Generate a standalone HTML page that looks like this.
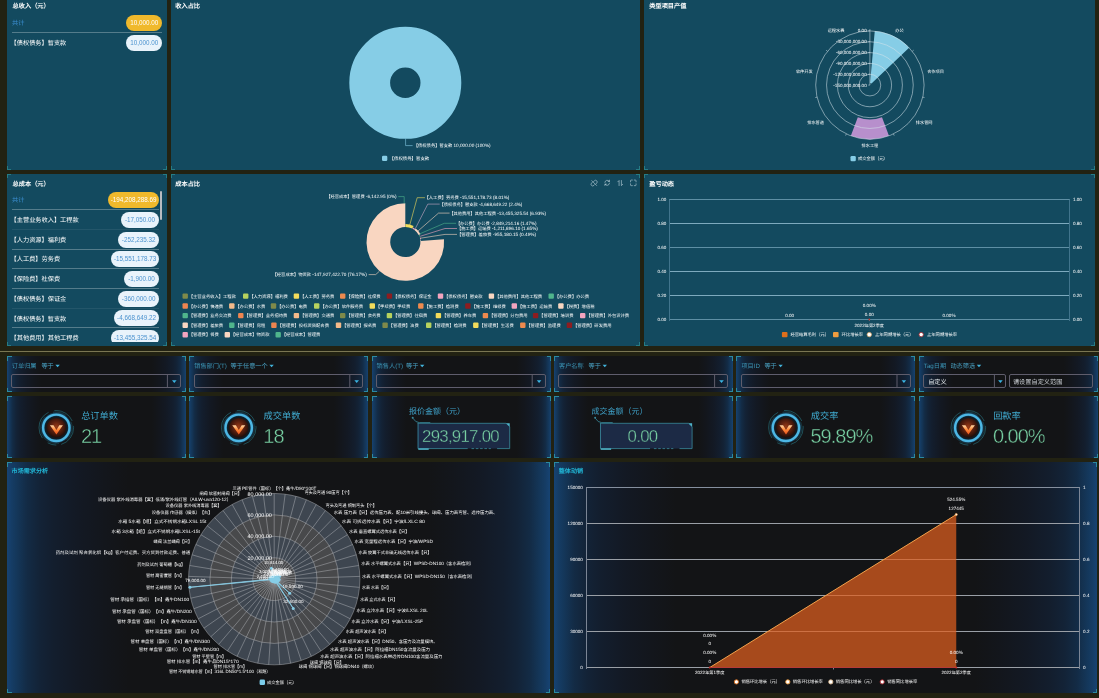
<!DOCTYPE html>
<html lang="zh-CN">
<head>
<meta charset="utf-8">
<title>销售数据大屏</title>
<style>
html,body{margin:0;padding:0}
body{text-spacing-trim:space-all;width:1099px;height:698px;overflow:hidden;position:relative;background:#222212;font-family:"Liberation Sans",sans-serif;color:#fff}
.w{position:absolute;will-change:transform}
.p{position:absolute;box-sizing:border-box;overflow:hidden}
.tp{background:#134a5f}
.dk{background:linear-gradient(90deg,#164373 0.0%,#153c64 0.77%,#14375a 1.53%,#132b45 3.15%,#132337 5.1%,#131e2e 7.22%,#131924 11.05%,#13161c 15.3%,#131416 19.12%,#131416 80.88%,#13161c 84.7%,#131924 88.95%,#131e2e 92.78%,#132337 94.9%,#132b45 96.86%,#14375a 98.47%,#153c64 99.23%,#164373 100.0%)}
.dk2{background:linear-gradient(90deg,#164373 0.0%,#153c64 0.9%,#14375a 1.8%,#132b45 3.7%,#132337 6.0%,#131e2e 8.5%,#131924 13.0%,#13161c 18.0%,#131416 22.5%,#131416 77.5%,#13161c 82.0%,#131924 87.0%,#131e2e 91.5%,#132337 94.0%,#132b45 96.3%,#14375a 98.2%,#153c64 99.1%,#164373 100.0%)}
.t{position:absolute;white-space:nowrap;line-height:8px}
.ttl{font-weight:bold;font-size:6.3px;color:#fff}
.ttl2{font-weight:bold;font-size:6.3px;color:#21b4d4}
svg{position:absolute;left:0;top:0;overflow:visible}
svg text{font-family:"Liberation Sans",sans-serif;text-spacing-trim:space-all;text-rendering:geometricPrecision}
.c{position:absolute;width:3px;height:3px;border:0 solid rgba(52,165,165,.55)}
.top1 .c.tl,.top1 .c.tr{display:none}
.c.tl{left:0;top:0;border-left-width:1px;border-top-width:1px}
.c.tr{right:0;top:0;border-right-width:1px;border-top-width:1px}
.c.bl{left:0;bottom:0;border-left-width:1px;border-bottom-width:1px}
.c.br{right:0;bottom:0;border-right-width:1px;border-bottom-width:1px}
.dk .c,.dk2 .c{border-color:#2a8aa2;width:3.5px;height:3.5px}
.bd{position:absolute;border-radius:8px;font-size:6.3px;line-height:16px;height:16px;text-align:center;white-space:nowrap}
.by{background:#f0b92c;color:#fff}
.bw{background:#e9f3fb;color:#4c93cf}
.sep{position:absolute;height:1px;background:rgba(255,255,255,.28)}
.lb{position:absolute;white-space:nowrap;font-size:6.4px;line-height:8px;color:#fff}
.fl{position:absolute;white-space:nowrap;font-size:6.2px;line-height:8px;color:#3b94b5}
.inp{position:absolute;box-sizing:border-box;border:1px solid #5f5d6c;border-radius:2px;height:14px}
.kt{position:absolute;white-space:nowrap;font-size:9.2px;line-height:14px;color:#40abd0}
.kv{position:absolute;white-space:nowrap;font-size:20px;line-height:24px;color:#78cfa3}
</style>
</head>
<body>
<div class="w" style="left:7px;top:0px;width:160px;height:170px"><div class="p tp top1" style="left:0px;top:0px;width:160px;height:170px"><svg width="160" height="170" viewBox="7 0 160 170"><text x="12.6" y="8.38" font-size="6.2" fill="#fff" font-weight="bold" textLength="37.13" lengthAdjust="spacingAndGlyphs">总收入（元）</text><text x="12" y="25.23" font-size="6.2" fill="#3c8fd2" textLength="12.38" lengthAdjust="spacingAndGlyphs">共计</text><text x="10.6" y="45.43" font-size="6.2" fill="#fff" textLength="55.69" lengthAdjust="spacingAndGlyphs">【债权债务】暂支款</text></svg><div class="bd by" style="left:118.9px;top:15px;width:36.5px">10,000.00</div><div class="bd bw" style="left:118.9px;top:35.2px;width:36.5px">10,000.00</div><div class="sep" style="left:4.8px;top:32.4px;width:150.6px;opacity:1"></div><i class="c tl"></i><i class="c tr"></i><i class="c bl"></i><i class="c br"></i></div></div>
<div class="w" style="left:171px;top:0px;width:469px;height:170px"><div class="p tp top1" style="left:0px;top:0px;width:469px;height:170px"><svg width="469" height="170" viewBox="171 0 469 170"><text x="175.3" y="8.38" font-size="6.2" fill="#fff" font-weight="bold" textLength="24.75" lengthAdjust="spacingAndGlyphs">收入占比</text><circle cx="405.3" cy="82.8" r="35.6" fill="none" stroke="#86cde6" stroke-width="40.8"/><path d="M405.6 138.6V145.6H412.6" fill="none" stroke="#86cde6" stroke-width="0.6"/><text x="413.8" y="146.78" font-size="4.4" fill="#fff" textLength="76.8" lengthAdjust="spacingAndGlyphs">【债权债务】暂支款 <tspan font-size="4.8">10,000.00 (100%)</tspan></text><rect x="382" y="155.7" width="5.3" height="5.3" rx="1.3" fill="#86cde6"/><text x="389.6" y="159.58" font-size="4.4" fill="#fff" textLength="39.6" lengthAdjust="spacingAndGlyphs">【债权债务】暂支款</text></svg><i class="c tl"></i><i class="c tr"></i><i class="c bl"></i><i class="c br"></i></div></div>
<div class="w" style="left:644px;top:0px;width:451px;height:170px"><div class="p tp top1" style="left:0px;top:0px;width:451px;height:170px"><svg width="451" height="170" viewBox="644 0 451 170"><text x="649.3" y="8.38" font-size="6.2" fill="#fff" font-weight="bold" textLength="37.13" lengthAdjust="spacingAndGlyphs">类型项目产值</text><path d="M874.76 31.12A54.2 54.2 0 0 1 909.08 47.64L871.49 83.58A2.2 2.2 0 0 0 870.1 82.91Z" fill="#86cde6"/><path d="M888.94 135.84A54.2 54.2 0 0 1 850.86 135.84L857.81 117.31A34.4 34.4 0 0 0 881.99 117.31Z" fill="#b78fcc"/><g fill="none" stroke="#d4e3ea" stroke-width="0.55"><circle cx="869.9" cy="85.1" r="10.84"/><circle cx="869.9" cy="85.1" r="21.68"/><circle cx="869.9" cy="85.1" r="32.52"/><circle cx="869.9" cy="85.1" r="43.36"/><circle cx="869.9" cy="85.1" r="54.2"/><path d="M869.9 30.9L869.9 29.1M912.28 51.31L913.68 50.18M922.74 97.16L924.5 97.56M893.42 133.93L894.2 135.55M846.38 133.93L845.6 135.55M817.06 97.16L815.3 97.56M827.52 51.31L826.12 50.18M869.9 85.1V30.9M868.3 85.1H869.9M868.3 74.26H869.9M868.3 63.42H869.9M868.3 52.58H869.9M868.3 41.74H869.9M868.3 30.9H869.9"/></g><text x="866.7" y="86.61" font-size="4.58" fill="#fff" text-anchor="end">-150,000,000.00</text><text x="866.7" y="75.77" font-size="4.58" fill="#fff" text-anchor="end">-120,000,000.00</text><text x="866.7" y="64.93" font-size="4.58" fill="#fff" text-anchor="end">-90,000,000.00</text><text x="866.7" y="54.09" font-size="4.58" fill="#fff" text-anchor="end">-60,000,000.00</text><text x="866.7" y="43.25" font-size="4.58" fill="#fff" text-anchor="end">-30,000,000.00</text><text x="866.7" y="32.41" font-size="4.58" fill="#fff" text-anchor="end">0.00</text><text x="895.37" y="32.1" font-size="4.2" fill="#fff" textLength="8.39" lengthAdjust="spacingAndGlyphs">办公</text><text x="927.13" y="73.15" font-size="4.2" fill="#fff" textLength="16.77" lengthAdjust="spacingAndGlyphs">合作项目</text><text x="915.79" y="124.33" font-size="4.2" fill="#fff" textLength="16.77" lengthAdjust="spacingAndGlyphs">排水管网</text><text x="869.9" y="147.11" font-size="4.2" fill="#fff" text-anchor="middle" textLength="16.77" lengthAdjust="spacingAndGlyphs">排水工程</text><text x="824.01" y="124.33" font-size="4.2" fill="#fff" text-anchor="end" textLength="16.77" lengthAdjust="spacingAndGlyphs">排水管道</text><text x="812.67" y="73.15" font-size="4.2" fill="#fff" text-anchor="end" textLength="16.77" lengthAdjust="spacingAndGlyphs">软件开发</text><text x="844.43" y="32.1" font-size="4.2" fill="#fff" text-anchor="end" textLength="16.77" lengthAdjust="spacingAndGlyphs">远程水表</text><rect x="850.5" y="155.9" width="5.3" height="5.3" rx="1.3" fill="#86cde6"/><text x="858" y="159.78" font-size="4.4" fill="#fff" textLength="29.6" lengthAdjust="spacingAndGlyphs">成交金额（元）</text></svg><i class="c tl"></i><i class="c tr"></i><i class="c bl"></i><i class="c br"></i></div></div>
<div class="w" style="left:7px;top:174px;width:160px;height:172px"><div class="p tp" style="left:0px;top:0px;width:160px;height:172px"><div class="p " style="left:0px;top:0px;width:160px;height:168px"><svg width="160" height="168" viewBox="7 174 160 168"><text x="12.6" y="185.73" font-size="6.2" fill="#fff" font-weight="bold" textLength="37.13" lengthAdjust="spacingAndGlyphs">总成本（元）</text><text x="12" y="202.33" font-size="6.2" fill="#3c8fd2" textLength="12.38" lengthAdjust="spacingAndGlyphs">共计</text><text x="10.6" y="222.03" font-size="6.2" fill="#fff" textLength="68.06" lengthAdjust="spacingAndGlyphs">【主营业务收入】工程款</text><text x="10.6" y="241.73" font-size="6.2" fill="#fff" textLength="55.69" lengthAdjust="spacingAndGlyphs">【人力资源】福利费</text><text x="10.6" y="261.43" font-size="6.2" fill="#fff" textLength="49.5" lengthAdjust="spacingAndGlyphs">【人工费】劳务费</text><text x="10.6" y="281.13" font-size="6.2" fill="#fff" textLength="49.5" lengthAdjust="spacingAndGlyphs">【保险费】社保费</text><text x="10.6" y="300.83" font-size="6.2" fill="#fff" textLength="55.69" lengthAdjust="spacingAndGlyphs">【债权债务】保证金</text><text x="10.6" y="320.53" font-size="6.2" fill="#fff" textLength="55.69" lengthAdjust="spacingAndGlyphs">【债权债务】暂支款</text><text x="10.6" y="340.23" font-size="6.2" fill="#fff" textLength="68.06" lengthAdjust="spacingAndGlyphs">【其他费用】其他工程费</text></svg><div class="bd by" style="left:101.13px;top:18.1px;width:51.07px">-194,208,288.69</div><div class="bd bw" style="left:113.99px;top:37.8px;width:38.21px">-17,050.00</div><div class="bd bw" style="left:111.13px;top:57.5px;width:41.07px">-252,235.32</div><div class="bd bw" style="left:103.98px;top:77.2px;width:48.22px">-15,551,178.73</div><div class="bd bw" style="left:116.84px;top:96.9px;width:35.36px">-1,900.00</div><div class="bd bw" style="left:111.13px;top:116.6px;width:41.07px">-360,000.00</div><div class="bd bw" style="left:106.84px;top:136.3px;width:45.36px">-4,668,649.22</div><div class="bd bw" style="left:103.98px;top:156px;width:48.22px">-13,455,325.54</div><div class="sep" style="left:4.8px;top:34.8px;width:147.4px;opacity:1"></div><div class="sep" style="left:4.8px;top:54.9px;width:147.4px;opacity:0.25"></div><div class="sep" style="left:4.8px;top:74.6px;width:147.4px;opacity:1"></div><div class="sep" style="left:4.8px;top:93.9px;width:147.4px;opacity:1"></div><div class="sep" style="left:4.8px;top:114.2px;width:147.4px;opacity:1"></div><div class="sep" style="left:4.8px;top:133.9px;width:147.4px;opacity:0.25"></div><div class="sep" style="left:4.8px;top:153.2px;width:147.4px;opacity:1"></div><div style="position:absolute;left:153.2px;top:16.7px;width:2px;height:29px;border-radius:1px;background:#b9bcc0"></div></div><i class="c tl"></i><i class="c tr"></i><i class="c bl"></i><i class="c br"></i></div></div>
<div class="w" style="left:171px;top:174px;width:469px;height:172px"><div class="p tp" style="left:0px;top:0px;width:469px;height:172px"><svg width="469" height="172" viewBox="171 174 469 172"><text x="175.3" y="185.73" font-size="6.2" fill="#fff" font-weight="bold" textLength="24.75" lengthAdjust="spacingAndGlyphs">成本占比</text><path d="M444 239.15A38.8 38.8 0 1 1 405.3 203.2L405.3 226.9A15.1 15.1 0 1 0 420.36 240.89Z" fill="#f9d6c1"/><path d="M405.39 224A18 18 0 0 1 413.61 226.03L412.27 228.61A15.1 15.1 0 0 0 405.38 226.9Z" fill="#f3dc5b"/><path d="M413.05 227.55A16.4 16.4 0 0 1 415.17 228.9L414.39 229.94A15.1 15.1 0 0 0 412.44 228.69Z" fill="#f3a4bf"/><path d="M415.73 228.45A17.1 17.1 0 0 1 420.48 234.13L418.71 235.05A15.1 15.1 0 0 0 414.51 230.04Z" fill="#f9d6c1"/><path d="M419.52 234.88A15.9 15.9 0 0 1 420.1 236.2L419.36 236.49A15.1 15.1 0 0 0 418.8 235.24Z" fill="#4fb58c"/><path d="M420.58 237.62A15.9 15.9 0 0 1 420.96 239.24L420.17 239.38A15.1 15.1 0 0 0 419.82 237.84Z" fill="#f3a4bf"/><path d="M420.95 239.8A15.8 15.8 0 0 1 421.05 240.76L420.35 240.81A15.1 15.1 0 0 0 420.25 239.9Z" fill="#fdeee6"/><g fill="none" stroke-width="0.6"><path d="M398.3 196.6H404.2V203.4" stroke="#4fb58c"/><path d="M424.9 197.7H417.2L409.6 225.6" stroke="#f3dc5b"/><path d="M439.7 204.1H427.8L415.3 228.6" stroke="#c9a7c4"/><path d="M449.6 213.1H438.5L417.8 231.2" stroke="#f9d6c1"/><path d="M456.1 223.3H444.3L419.6 233.9" stroke="#4fb58c"/><path d="M457 228.5H445L420.2 236.3" stroke="#f3a4bf"/><path d="M457 234.4H445L420.6 238.2" stroke="#f9d6c1"/><path d="M368.6 274.6H375.7L379.4 271.2" stroke="#f9d6c1"/></g><text x="396.6" y="198.15" font-size="4.3" fill="#fff" text-anchor="end" textLength="70.3" lengthAdjust="spacingAndGlyphs">【经营成本】管理费 <tspan font-size="4.69">-6,142.95 (0%)</tspan></text><text x="424.5" y="199.25" font-size="4.3" fill="#fff" textLength="84.9" lengthAdjust="spacingAndGlyphs">【人工费】劳务费 <tspan font-size="4.69">-15,551,178.73 (8.01%)</tspan></text><text x="439.4" y="205.65" font-size="4.3" fill="#fff" textLength="83" lengthAdjust="spacingAndGlyphs">【债权债务】暂支款 <tspan font-size="4.69">-4,668,649.22 (2.4%)</tspan></text><text x="449.3" y="214.65" font-size="4.3" fill="#fff" textLength="96.7" lengthAdjust="spacingAndGlyphs">【其他费用】其他工程费 <tspan font-size="4.69">-13,455,325.54 (6.93%)</tspan></text><text x="455.9" y="224.85" font-size="4.3" fill="#fff" textLength="80.7" lengthAdjust="spacingAndGlyphs">【办公费】办公费 <tspan font-size="4.69">-2,849,214.16 (1.47%)</tspan></text><text x="456.9" y="230.05" font-size="4.3" fill="#fff" textLength="80.9" lengthAdjust="spacingAndGlyphs">【施工费】运输费 <tspan font-size="4.69">-1,211,896.10 (1.65%)</tspan></text><text x="456.9" y="235.95" font-size="4.3" fill="#fff" textLength="79.2" lengthAdjust="spacingAndGlyphs">【管理费】差旅费 <tspan font-size="4.69">-955,180.15 (0.49%)</tspan></text><text x="366.8" y="276.15" font-size="4.3" fill="#fff" text-anchor="end" textLength="94.3" lengthAdjust="spacingAndGlyphs">【经营成本】物资款 <tspan font-size="4.69">-147,927,422.70 (76.17%)</tspan></text><rect x="182.5" y="293.4" width="5.4" height="5.4" rx="1" fill="#7f8a4a"/><text x="188.7" y="297.65" font-size="4.3" fill="#fff" textLength="47.27" lengthAdjust="spacingAndGlyphs">【主营业务收入】工程款</text><rect x="243" y="293.4" width="5.4" height="5.4" rx="1" fill="#b7d25e"/><text x="249.2" y="297.65" font-size="4.3" fill="#fff" textLength="38.67" lengthAdjust="spacingAndGlyphs">【人力资源】福利费</text><rect x="293.7" y="293.4" width="5.4" height="5.4" rx="1" fill="#f3dc5b"/><text x="299.9" y="297.65" font-size="4.3" fill="#fff" textLength="34.38" lengthAdjust="spacingAndGlyphs">【人工费】劳务费</text><rect x="340" y="293.4" width="5.4" height="5.4" rx="1" fill="#ee8a4e"/><text x="346.2" y="297.65" font-size="4.3" fill="#fff" textLength="34.38" lengthAdjust="spacingAndGlyphs">【保险费】社保费</text><rect x="386.7" y="293.4" width="5.4" height="5.4" rx="1" fill="#8d1d20"/><text x="392.9" y="297.65" font-size="4.3" fill="#fff" textLength="38.67" lengthAdjust="spacingAndGlyphs">【债权债务】保证金</text><rect x="437.8" y="293.4" width="5.4" height="5.4" rx="1" fill="#f3a4bf"/><text x="444" y="297.65" font-size="4.3" fill="#fff" textLength="38.67" lengthAdjust="spacingAndGlyphs">【债权债务】暂支款</text><rect x="488.7" y="293.4" width="5.4" height="5.4" rx="1" fill="#f9d6c1"/><text x="494.9" y="297.65" font-size="4.3" fill="#fff" textLength="47.27" lengthAdjust="spacingAndGlyphs">【其他费用】其他工程费</text><rect x="548.5" y="293.4" width="5.4" height="5.4" rx="1" fill="#4fb58c"/><text x="554.7" y="297.65" font-size="4.3" fill="#fff" textLength="34.38" lengthAdjust="spacingAndGlyphs">【办公费】办公费</text><rect x="182.5" y="303.3" width="5.4" height="5.4" rx="1" fill="#ee8550"/><text x="188.7" y="307.55" font-size="4.3" fill="#fff" textLength="34.38" lengthAdjust="spacingAndGlyphs">【办公费】快递费</text><rect x="229.1" y="303.3" width="5.4" height="5.4" rx="1" fill="#f4ba8a"/><text x="235.3" y="307.55" font-size="4.3" fill="#fff" textLength="30.08" lengthAdjust="spacingAndGlyphs">【办公费】水费</text><rect x="270.8" y="303.3" width="5.4" height="5.4" rx="1" fill="#7f8a4a"/><text x="277" y="307.55" font-size="4.3" fill="#fff" textLength="30.08" lengthAdjust="spacingAndGlyphs">【办公费】电费</text><rect x="314" y="303.3" width="5.4" height="5.4" rx="1" fill="#b7d25e"/><text x="320.2" y="307.55" font-size="4.3" fill="#fff" textLength="42.97" lengthAdjust="spacingAndGlyphs">【办公费】软件服务费</text><rect x="369.6" y="303.3" width="5.4" height="5.4" rx="1" fill="#f3dc5b"/><text x="375.8" y="307.55" font-size="4.3" fill="#fff" textLength="34.38" lengthAdjust="spacingAndGlyphs">【手续费】手续费</text><rect x="418.1" y="303.3" width="5.4" height="5.4" rx="1" fill="#ee8a4e"/><text x="424.3" y="307.55" font-size="4.3" fill="#fff" textLength="34.38" lengthAdjust="spacingAndGlyphs">【施工费】检测费</text><rect x="465.2" y="303.3" width="5.4" height="5.4" rx="1" fill="#8d1d20"/><text x="471.4" y="307.55" font-size="4.3" fill="#fff" textLength="34.38" lengthAdjust="spacingAndGlyphs">【施工费】维修费</text><rect x="511.6" y="303.3" width="5.4" height="5.4" rx="1" fill="#f3a4bf"/><text x="517.8" y="307.55" font-size="4.3" fill="#fff" textLength="34.38" lengthAdjust="spacingAndGlyphs">【施工费】运输费</text><rect x="558.2" y="303.3" width="5.4" height="5.4" rx="1" fill="#f9d6c1"/><text x="564.4" y="307.55" font-size="4.3" fill="#fff" textLength="30.08" lengthAdjust="spacingAndGlyphs">【税费】增值税</text><rect x="182.5" y="312.9" width="5.4" height="5.4" rx="1" fill="#4fb58c"/><text x="188.7" y="317.15" font-size="4.3" fill="#fff" textLength="42.97" lengthAdjust="spacingAndGlyphs">【管理费】业务交流费</text><rect x="238.1" y="312.9" width="5.4" height="5.4" rx="1" fill="#ee8550"/><text x="244.3" y="317.15" font-size="4.3" fill="#fff" textLength="42.97" lengthAdjust="spacingAndGlyphs">【管理费】业务招待费</text><rect x="293.7" y="312.9" width="5.4" height="5.4" rx="1" fill="#f4ba8a"/><text x="299.9" y="317.15" font-size="4.3" fill="#fff" textLength="34.38" lengthAdjust="spacingAndGlyphs">【管理费】交通费</text><rect x="340" y="312.9" width="5.4" height="5.4" rx="1" fill="#7f8a4a"/><text x="346.2" y="317.15" font-size="4.3" fill="#fff" textLength="34.38" lengthAdjust="spacingAndGlyphs">【管理费】会务费</text><rect x="386.7" y="312.9" width="5.4" height="5.4" rx="1" fill="#b7d25e"/><text x="392.9" y="317.15" font-size="4.3" fill="#fff" textLength="34.38" lengthAdjust="spacingAndGlyphs">【管理费】住宿费</text><rect x="435.7" y="312.9" width="5.4" height="5.4" rx="1" fill="#f3dc5b"/><text x="441.9" y="317.15" font-size="4.3" fill="#fff" textLength="34.38" lengthAdjust="spacingAndGlyphs">【管理费】养车费</text><rect x="482.7" y="312.9" width="5.4" height="5.4" rx="1" fill="#ee8a4e"/><text x="488.9" y="317.15" font-size="4.3" fill="#fff" textLength="38.67" lengthAdjust="spacingAndGlyphs">【管理费】分包费用</text><rect x="532.9" y="312.9" width="5.4" height="5.4" rx="1" fill="#8d1d20"/><text x="539.1" y="317.15" font-size="4.3" fill="#fff" textLength="34.38" lengthAdjust="spacingAndGlyphs">【管理费】培训费</text><rect x="580" y="312.9" width="5.4" height="5.4" rx="1" fill="#f3a4bf"/><text x="586.2" y="317.15" font-size="4.3" fill="#fff" textLength="42.97" lengthAdjust="spacingAndGlyphs">【管理费】外包设计费</text><rect x="182.5" y="322.5" width="5.4" height="5.4" rx="1" fill="#f9d6c1"/><text x="188.7" y="326.75" font-size="4.3" fill="#fff" textLength="34.38" lengthAdjust="spacingAndGlyphs">【管理费】差旅费</text><rect x="229.1" y="322.5" width="5.4" height="5.4" rx="1" fill="#4fb58c"/><text x="235.3" y="326.75" font-size="4.3" fill="#fff" textLength="30.08" lengthAdjust="spacingAndGlyphs">【管理费】房租</text><rect x="271.2" y="322.5" width="5.4" height="5.4" rx="1" fill="#ee8550"/><text x="277.4" y="326.75" font-size="4.3" fill="#fff" textLength="51.56" lengthAdjust="spacingAndGlyphs">【管理费】投标资质配合费</text><rect x="335.8" y="322.5" width="5.4" height="5.4" rx="1" fill="#f4ba8a"/><text x="342" y="326.75" font-size="4.3" fill="#fff" textLength="34.38" lengthAdjust="spacingAndGlyphs">【管理费】报名费</text><rect x="382.4" y="322.5" width="5.4" height="5.4" rx="1" fill="#7f8a4a"/><text x="388.6" y="326.75" font-size="4.3" fill="#fff" textLength="30.08" lengthAdjust="spacingAndGlyphs">【管理费】油费</text><rect x="426" y="322.5" width="5.4" height="5.4" rx="1" fill="#b7d25e"/><text x="432.2" y="326.75" font-size="4.3" fill="#fff" textLength="34.38" lengthAdjust="spacingAndGlyphs">【管理费】检测费</text><rect x="473.1" y="322.5" width="5.4" height="5.4" rx="1" fill="#f3dc5b"/><text x="479.3" y="326.75" font-size="4.3" fill="#fff" textLength="34.38" lengthAdjust="spacingAndGlyphs">【管理费】生活费</text><rect x="520.1" y="322.5" width="5.4" height="5.4" rx="1" fill="#ee8a4e"/><text x="526.3" y="326.75" font-size="4.3" fill="#fff" textLength="34.38" lengthAdjust="spacingAndGlyphs">【管理费】监理费</text><rect x="566.7" y="322.5" width="5.4" height="5.4" rx="1" fill="#8d1d20"/><text x="572.9" y="326.75" font-size="4.3" fill="#fff" textLength="38.67" lengthAdjust="spacingAndGlyphs">【管理费】研发费用</text><rect x="182.5" y="332.1" width="5.4" height="5.4" rx="1" fill="#f3a4bf"/><text x="188.7" y="336.35" font-size="4.3" fill="#fff" textLength="30.08" lengthAdjust="spacingAndGlyphs">【管理费】餐费</text><rect x="224.6" y="332.1" width="5.4" height="5.4" rx="1" fill="#f9d6c1"/><text x="230.8" y="336.35" font-size="4.3" fill="#fff" textLength="38.67" lengthAdjust="spacingAndGlyphs">【经营成本】物资款</text><rect x="275.5" y="332.1" width="5.4" height="5.4" rx="1" fill="#4fb58c"/><text x="281.7" y="336.35" font-size="4.3" fill="#fff" textLength="38.67" lengthAdjust="spacingAndGlyphs">【经营成本】管理费</text><g fill="none" stroke="#d5e6ee" stroke-width="0.62" stroke-linecap="round" stroke-linejoin="round"><path transform="translate(594.2 183.1) scale(.86) translate(-594.2 -183.1)" d="M593.5 181.3l0.9-0.9a1.9 1.9 0 0 1 2.7 2.7l-0.9 0.9M594.7 184.9l-0.9 0.9a1.9 1.9 0 0 1-2.7-2.7l0.9-0.9M591.4 180.3l5.6 5.6"/><path transform="translate(607.2 182.8) scale(.86) translate(-607.2 -182.8)" d="M604.5 182.3a2.8 2.8 0 0 1 5.1-1.2M609.9 183.3a2.8 2.8 0 0 1-5.1 1.2M609.9 179.7v1.6h-1.6M604.5 185.9v-1.6h1.6"/><path transform="translate(620.2 183.05) scale(.86) translate(-620.2 -183.05)" d="M618.9 186v-5.9l-1.5 1.5M621.6 180.1v5.9l1.5-1.5"/><path transform="translate(633.3 182.85) scale(.86) translate(-633.3 -182.85)" d="M630.1 181.7v-1.3a0.8 0.8 0 0 1 0.8-0.8h1.3M634.4 179.6h1.3a0.8 0.8 0 0 1 0.8 0.8v1.3M636.5 184v1.3a0.8 0.8 0 0 1-0.8 0.8h-1.3M632.2 186.1h-1.3a0.8 0.8 0 0 1-0.8-0.8v-1.3"/></g></svg><i class="c tl"></i><i class="c tr"></i><i class="c bl"></i><i class="c br"></i></div></div>
<div class="w" style="left:644px;top:174px;width:451px;height:172px"><div class="p tp" style="left:0px;top:0px;width:451px;height:172px"><svg width="451" height="172" viewBox="644 174 451 172"><text x="649.3" y="185.73" font-size="6.2" fill="#fff" font-weight="bold" textLength="24.75" lengthAdjust="spacingAndGlyphs">盈亏动态</text><path d="M669 199.5H1070M669 247.5H1070M669 319.5H1070" fill="none" stroke="#5e8fa4" stroke-width="1"/><path d="M669 223.5H1070M669 271.5H1070M669 295.5H1070" fill="none" stroke="#7daabe" stroke-width="1"/><path d="M669.5 199.5V321M1069.5 199.5V321M869.5 319.5v1.6" fill="none" stroke="#41748c" stroke-width="1"/><text x="666.3" y="201.01" font-size="4.58" fill="#fff" text-anchor="end">1.00</text><text x="1072.9" y="201.01" font-size="4.58" fill="#fff">1.00</text><text x="666.3" y="225.01" font-size="4.58" fill="#fff" text-anchor="end">0.80</text><text x="1072.9" y="225.01" font-size="4.58" fill="#fff">0.80</text><text x="666.3" y="249.01" font-size="4.58" fill="#fff" text-anchor="end">0.60</text><text x="1072.9" y="249.01" font-size="4.58" fill="#fff">0.60</text><text x="666.3" y="273.01" font-size="4.58" fill="#fff" text-anchor="end">0.40</text><text x="1072.9" y="273.01" font-size="4.58" fill="#fff">0.40</text><text x="666.3" y="297.01" font-size="4.58" fill="#fff" text-anchor="end">0.20</text><text x="1072.9" y="297.01" font-size="4.58" fill="#fff">0.20</text><text x="666.3" y="321.01" font-size="4.58" fill="#fff" text-anchor="end">0.00</text><text x="1072.9" y="321.01" font-size="4.58" fill="#fff">0.00</text><circle cx="869.3" cy="319.5" r="0.9" fill="#c8312b"/><text x="789.7" y="316.61" font-size="4.58" fill="#fff" text-anchor="middle">0.00</text><text x="869.3" y="306.51" font-size="4.58" fill="#fff" text-anchor="middle">0.00%</text><text x="869.3" y="315.51" font-size="4.58" fill="#fff" text-anchor="middle">0.00</text><text x="949" y="316.61" font-size="4.58" fill="#fff" text-anchor="middle">0.00%</text><text x="869.3" y="326.71" font-size="4.2" fill="#fff" text-anchor="middle" textLength="29.52" lengthAdjust="spacingAndGlyphs"><tspan font-size="4.58">2022</tspan>年第<tspan font-size="4.58">2</tspan>季度</text><rect x="781.9" y="331.9" width="5.6" height="5.4" rx="1" fill="#de6f1c"/><text x="790.4" y="336.15" font-size="4.3" fill="#fff" textLength="38.67" lengthAdjust="spacingAndGlyphs">经营结算毛利（元）</text><rect x="833.0" y="331.9" width="5.6" height="5.4" rx="1" fill="#ef9d3f"/><text x="841.6" y="336.15" font-size="4.3" fill="#fff" textLength="21.48" lengthAdjust="spacingAndGlyphs">环比增长率</text><circle cx="869.3" cy="334.6" r="2.2" fill="#fff" stroke="#d9a86c" stroke-width="0.8"/><text x="875" y="336.15" font-size="4.3" fill="#fff" textLength="38.67" lengthAdjust="spacingAndGlyphs">上年同期增长（元）</text><circle cx="921.2" cy="334.6" r="2.2" fill="#fff" stroke="#a8242a" stroke-width="0.8"/><text x="927" y="336.15" font-size="4.3" fill="#fff" textLength="30.08" lengthAdjust="spacingAndGlyphs">上年同期增长率</text></svg><i class="c tl"></i><i class="c tr"></i><i class="c bl"></i><i class="c br"></i></div></div>
<svg width="0" height="0" style="position:absolute"><defs>
<radialGradient id="gd" cx="50%" cy="45%" r="55%"><stop offset="0" stop-color="#9a3a16"/><stop offset="0.5" stop-color="#5c2110"/><stop offset="1" stop-color="#1d0d09"/></radialGradient>
<linearGradient id="gv" x1="0" y1="0" x2="0" y2="1"><stop offset="0" stop-color="#ffd7a6"/><stop offset="0.45" stop-color="#ff8a3a"/><stop offset="1" stop-color="#e8501c"/></linearGradient>
<radialGradient id="gr" cx="50%" cy="50%" r="50%"><stop offset="0.78" stop-color="#2a86b8"/><stop offset="0.9" stop-color="#5cc6ee"/><stop offset="1" stop-color="#2f8fc0"/></radialGradient>
</defs></svg>
<div style="position:absolute;left:0;top:350.9px;width:1099px;height:1px;background:#7a7652"></div>
<div class="w" style="left:7px;top:356px;width:179px;height:36px"><div class="p dk" style="left:0px;top:0px;width:179px;height:36px"><svg width="179" height="36" viewBox="7 356 179 36"><text x="11.8" y="367.83" font-size="6.2" fill="#3b94b5" textLength="24.75" lengthAdjust="spacingAndGlyphs">订单归属</text><text x="41.4" y="367.83" font-size="6.2" fill="#4aa3c6" textLength="12.38" lengthAdjust="spacingAndGlyphs">等于</text><path d="M55.4 364.7h4.4l-2.2 2.6z" fill="#43b4dc"/><path d="M167.4 375v12.6" stroke="#5f5d6c" stroke-width="1" fill="none"/><path d="M172 380.2h4.6l-2.3 2.7z" fill="#3bb4e2"/></svg><div class="inp" style="left:4.2px;top:18.3px;width:169.8px"></div><i class="c tl"></i><i class="c tr"></i><i class="c bl"></i><i class="c br"></i></div></div>
<div class="w" style="left:189px;top:356px;width:179px;height:36px"><div class="p dk" style="left:0px;top:0px;width:179px;height:36px"><svg width="179" height="36" viewBox="189 356 179 36"><text x="194.2" y="367.83" font-size="6.2" fill="#3b94b5" textLength="32.66" lengthAdjust="spacingAndGlyphs">销售部门(T)</text><text x="230.6" y="367.83" font-size="6.2" fill="#4aa3c6" textLength="37.13" lengthAdjust="spacingAndGlyphs">等于任意一个</text><path d="M269.4 364.7h4.4l-2.2 2.6z" fill="#43b4dc"/><path d="M349.8 375v12.6" stroke="#5f5d6c" stroke-width="1" fill="none"/><path d="M354.4 380.2h4.6l-2.3 2.7z" fill="#3bb4e2"/></svg><div class="inp" style="left:4.6px;top:18.3px;width:169.8px"></div><i class="c tl"></i><i class="c tr"></i><i class="c bl"></i><i class="c br"></i></div></div>
<div class="w" style="left:372px;top:356px;width:179px;height:36px"><div class="p dk" style="left:0px;top:0px;width:179px;height:36px"><svg width="179" height="36" viewBox="372 356 179 36"><text x="376.6" y="367.83" font-size="6.2" fill="#3b94b5" textLength="26.47" lengthAdjust="spacingAndGlyphs">销售人(T)</text><text x="406" y="367.83" font-size="6.2" fill="#4aa3c6" textLength="12.38" lengthAdjust="spacingAndGlyphs">等于</text><path d="M420 364.7h4.4l-2.2 2.6z" fill="#43b4dc"/><path d="M532.2 375v12.6" stroke="#5f5d6c" stroke-width="1" fill="none"/><path d="M536.8 380.2h4.6l-2.3 2.7z" fill="#3bb4e2"/></svg><div class="inp" style="left:4px;top:18.3px;width:169.8px"></div><i class="c tl"></i><i class="c tr"></i><i class="c bl"></i><i class="c br"></i></div></div>
<div class="w" style="left:554px;top:356px;width:179px;height:36px"><div class="p dk" style="left:0px;top:0px;width:179px;height:36px"><svg width="179" height="36" viewBox="554 356 179 36"><text x="559" y="367.83" font-size="6.2" fill="#3b94b5" textLength="24.75" lengthAdjust="spacingAndGlyphs">客户名称</text><text x="588.6" y="367.83" font-size="6.2" fill="#4aa3c6" textLength="12.38" lengthAdjust="spacingAndGlyphs">等于</text><path d="M602.6 364.7h4.4l-2.2 2.6z" fill="#43b4dc"/><path d="M714.6 375v12.6" stroke="#5f5d6c" stroke-width="1" fill="none"/><path d="M719.2 380.2h4.6l-2.3 2.7z" fill="#3bb4e2"/></svg><div class="inp" style="left:4.4px;top:18.3px;width:169.8px"></div><i class="c tl"></i><i class="c tr"></i><i class="c bl"></i><i class="c br"></i></div></div>
<div class="w" style="left:736px;top:356px;width:179px;height:36px"><div class="p dk" style="left:0px;top:0px;width:179px;height:36px"><svg width="179" height="36" viewBox="736 356 179 36"><text x="741.4" y="367.83" font-size="6.2" fill="#3b94b5" textLength="18.56" lengthAdjust="spacingAndGlyphs">项目ID</text><text x="764.4" y="367.83" font-size="6.2" fill="#4aa3c6" textLength="12.38" lengthAdjust="spacingAndGlyphs">等于</text><path d="M778.4 364.7h4.4l-2.2 2.6z" fill="#43b4dc"/><path d="M897 375v12.6" stroke="#5f5d6c" stroke-width="1" fill="none"/><path d="M901.6 380.2h4.6l-2.3 2.7z" fill="#3bb4e2"/></svg><div class="inp" style="left:4.8px;top:18.3px;width:169.8px"></div><i class="c tl"></i><i class="c tr"></i><i class="c bl"></i><i class="c br"></i></div></div>
<div class="w" style="left:919px;top:356px;width:179px;height:36px"><div class="p dk" style="left:0px;top:0px;width:179px;height:36px"><svg width="179" height="36" viewBox="919 356 179 36"><text x="923.8" y="367.83" font-size="6.2" fill="#3b94b5" textLength="22.36" lengthAdjust="spacingAndGlyphs">Tag日期</text><text x="950.4" y="367.83" font-size="6.2" fill="#4aa3c6" textLength="24.75" lengthAdjust="spacingAndGlyphs">动态筛选</text><path d="M976.8 364.7h4.4l-2.2 2.6z" fill="#43b4dc"/><path d="M994.4 375v12.6" stroke="#5f5d6c" stroke-width="1" fill="none"/><path d="M998.1 380.2h4.6l-2.3 2.7z" fill="#3bb4e2"/><text x="928.2" y="383.63" font-size="6.2" fill="#e3e8ec" textLength="18.56" lengthAdjust="spacingAndGlyphs">自定义</text><text x="1012.9" y="383.63" font-size="6.2" fill="#c9cdd2" textLength="49.5" lengthAdjust="spacingAndGlyphs">请设置自定义范围</text></svg><div class="inp" style="left:4.2px;top:18.3px;width:83px"></div><div class="inp" style="left:89.8px;top:18.3px;width:84.6px"></div><i class="c tl"></i><i class="c tr"></i><i class="c bl"></i><i class="c br"></i></div></div>
<div class="w" style="left:7px;top:396px;width:179px;height:62px"><div class="p dk" style="left:0px;top:0px;width:179px;height:62px"><svg width="179" height="62" viewBox="7 396 179 62"><circle cx="56.3" cy="427.8" r="17.3" fill="none" stroke="#2f9fae" stroke-width="0.5" stroke-dasharray="22 5 9 7 30 6" opacity=".85"/><circle cx="56.3" cy="427.8" r="15.9" fill="none" stroke="#1f6f86" stroke-width="0.5" stroke-dasharray="14 8 40 9" opacity=".7"/><circle cx="56.3" cy="427.8" r="13.4" fill="#10222c" stroke="#1d5f86" stroke-width="3.6" opacity=".55"/><circle cx="56.3" cy="427.8" r="13.2" fill="none" stroke="#4db7e4" stroke-width="2.4"/><circle cx="56.3" cy="427.8" r="9.9" fill="url(#gd)"/><path d="M49.9 425.3h3.6l2.9 4.7l2.9 -4.7h3.6l-6.5 9.3z" fill="url(#gv)"/><text x="81.2" y="419.11" font-size="9.2" fill="#40abd0" textLength="36.75" lengthAdjust="spacingAndGlyphs">总订单数</text></svg><div class="kv" style="left:73.9px;top:28.3px;letter-spacing:-1px;-webkit-text-stroke:0.4px #131415">21</div><i class="c tl"></i><i class="c tr"></i><i class="c bl"></i><i class="c br"></i></div></div>
<div class="w" style="left:189px;top:396px;width:179px;height:62px"><div class="p dk" style="left:0px;top:0px;width:179px;height:62px"><svg width="179" height="62" viewBox="189 396 179 62"><circle cx="238.7" cy="427.8" r="17.3" fill="none" stroke="#2f9fae" stroke-width="0.5" stroke-dasharray="22 5 9 7 30 6" opacity=".85"/><circle cx="238.7" cy="427.8" r="15.9" fill="none" stroke="#1f6f86" stroke-width="0.5" stroke-dasharray="14 8 40 9" opacity=".7"/><circle cx="238.7" cy="427.8" r="13.4" fill="#10222c" stroke="#1d5f86" stroke-width="3.6" opacity=".55"/><circle cx="238.7" cy="427.8" r="13.2" fill="none" stroke="#4db7e4" stroke-width="2.4"/><circle cx="238.7" cy="427.8" r="9.9" fill="url(#gd)"/><path d="M232.3 425.3h3.6l2.9 4.7l2.9 -4.7h3.6l-6.5 9.3z" fill="url(#gv)"/><text x="263.6" y="419.11" font-size="9.2" fill="#40abd0" textLength="36.75" lengthAdjust="spacingAndGlyphs">成交单数</text></svg><div class="kv" style="left:74.3px;top:28.3px;letter-spacing:-1px;-webkit-text-stroke:0.4px #131415">18</div><i class="c tl"></i><i class="c tr"></i><i class="c bl"></i><i class="c br"></i></div></div>
<div class="w" style="left:372px;top:396px;width:179px;height:62px"><div class="p dk" style="left:0px;top:0px;width:179px;height:62px"><svg width="179" height="62" viewBox="372 396 179 62"><text x="409.1" y="413.78" font-size="8" fill="#3fa2c9" textLength="56" lengthAdjust="spacingAndGlyphs">报价金额（元）</text><rect x="417.5" y="423.3" width="92.2" height="25.3" fill="#1c2a45"/><path d="M417.5 423.3h88.6l3.6 3.4V448.6M509.7 448.6h-12.6M467.7 448.6h-49.6M418.1 448.6V423.3" fill="none" stroke="#3a8a9c" stroke-width="0.8"/><path d="M471.5 448.6h19.4" fill="none" stroke="#3a8a9c" stroke-width="0.8" stroke-dasharray="2.6 1.7"/><path d="M418.3 449.1h10.4" fill="none" stroke="#4fb2c6" stroke-width="1.5"/><path d="M506.1 423.3h3.6v3.4z" fill="#4fb2c6"/><path d="M412.9 418.2q2.6 4.4 6.4 4.4h11" fill="none" stroke="#3a8a9c" stroke-width="0.8"/><circle cx="412.7" cy="417.8" r="1" fill="#3a8a9c"/></svg><div class="kv" style="left:42.4px;top:29.2px;width:92.2px;text-align:center;font-size:16.8px;letter-spacing:-0.72px;-webkit-text-stroke:0.35px #1c2a45">293,917.00</div><i class="c tl"></i><i class="c tr"></i><i class="c bl"></i><i class="c br"></i></div></div>
<div class="w" style="left:554px;top:396px;width:179px;height:62px"><div class="p dk" style="left:0px;top:0px;width:179px;height:62px"><svg width="179" height="62" viewBox="554 396 179 62"><text x="591.5" y="413.78" font-size="8" fill="#3fa2c9" textLength="56" lengthAdjust="spacingAndGlyphs">成交金额（元）</text><rect x="599.9" y="423.3" width="92.2" height="25.3" fill="#1c2a45"/><path d="M599.9 423.3h88.6l3.6 3.4V448.6M692.1 448.6h-12.6M650.1 448.6h-49.6M600.5 448.6V423.3" fill="none" stroke="#3a8a9c" stroke-width="0.8"/><path d="M653.9 448.6h19.4" fill="none" stroke="#3a8a9c" stroke-width="0.8" stroke-dasharray="2.6 1.7"/><path d="M600.7 449.1h10.4" fill="none" stroke="#4fb2c6" stroke-width="1.5"/><path d="M688.5 423.3h3.6v3.4z" fill="#4fb2c6"/><path d="M595.3 418.2q2.6 4.4 6.4 4.4h11" fill="none" stroke="#3a8a9c" stroke-width="0.8"/><circle cx="595.1" cy="417.8" r="1" fill="#3a8a9c"/></svg><div class="kv" style="left:42.4px;top:29.2px;width:92.2px;text-align:center;font-size:16.8px;letter-spacing:-0.72px;-webkit-text-stroke:0.35px #1c2a45">0.00</div><i class="c tl"></i><i class="c tr"></i><i class="c bl"></i><i class="c br"></i></div></div>
<div class="w" style="left:736px;top:396px;width:179px;height:62px"><div class="p dk" style="left:0px;top:0px;width:179px;height:62px"><svg width="179" height="62" viewBox="736 396 179 62"><circle cx="785.9" cy="427.8" r="17.3" fill="none" stroke="#2f9fae" stroke-width="0.5" stroke-dasharray="22 5 9 7 30 6" opacity=".85"/><circle cx="785.9" cy="427.8" r="15.9" fill="none" stroke="#1f6f86" stroke-width="0.5" stroke-dasharray="14 8 40 9" opacity=".7"/><circle cx="785.9" cy="427.8" r="13.4" fill="#10222c" stroke="#1d5f86" stroke-width="3.6" opacity=".55"/><circle cx="785.9" cy="427.8" r="13.2" fill="none" stroke="#4db7e4" stroke-width="2.4"/><circle cx="785.9" cy="427.8" r="9.9" fill="url(#gd)"/><path d="M779.5 425.3h3.6l2.9 4.7l2.9 -4.7h3.6l-6.5 9.3z" fill="url(#gv)"/><text x="810.8" y="419.11" font-size="9.2" fill="#40abd0" textLength="27.56" lengthAdjust="spacingAndGlyphs">成交率</text></svg><div class="kv" style="left:74.5px;top:28.3px;letter-spacing:-1px;-webkit-text-stroke:0.4px #131415">59.89%</div><i class="c tl"></i><i class="c tr"></i><i class="c bl"></i><i class="c br"></i></div></div>
<div class="w" style="left:919px;top:396px;width:179px;height:62px"><div class="p dk" style="left:0px;top:0px;width:179px;height:62px"><svg width="179" height="62" viewBox="919 396 179 62"><circle cx="968.3" cy="427.8" r="17.3" fill="none" stroke="#2f9fae" stroke-width="0.5" stroke-dasharray="22 5 9 7 30 6" opacity=".85"/><circle cx="968.3" cy="427.8" r="15.9" fill="none" stroke="#1f6f86" stroke-width="0.5" stroke-dasharray="14 8 40 9" opacity=".7"/><circle cx="968.3" cy="427.8" r="13.4" fill="#10222c" stroke="#1d5f86" stroke-width="3.6" opacity=".55"/><circle cx="968.3" cy="427.8" r="13.2" fill="none" stroke="#4db7e4" stroke-width="2.4"/><circle cx="968.3" cy="427.8" r="9.9" fill="url(#gd)"/><path d="M961.9 425.3h3.6l2.9 4.7l2.9 -4.7h3.6l-6.5 9.3z" fill="url(#gv)"/><text x="993.2" y="419.11" font-size="9.2" fill="#40abd0" textLength="27.56" lengthAdjust="spacingAndGlyphs">回款率</text></svg><div class="kv" style="left:73.9px;top:28.3px;letter-spacing:-1px;-webkit-text-stroke:0.4px #131415">0.00%</div><i class="c tl"></i><i class="c tr"></i><i class="c bl"></i><i class="c br"></i></div></div>
<div class="w" style="left:7px;top:462px;width:543px;height:231px"><div class="p dk2" style="left:0px;top:0px;width:543px;height:231px"><svg width="543" height="231" viewBox="7 462 543 231"><text x="11.6" y="473.4" font-size="6.1" fill="#21b4d4" font-weight="bold" textLength="36.56" lengthAdjust="spacingAndGlyphs">市场需求分析</text><circle cx="274.2" cy="579.15" r="85.7" fill="#3e4650"/><circle cx="274.2" cy="579.15" r="64.28" fill="#48494b"/><circle cx="274.2" cy="579.15" r="42.85" fill="#3e4650"/><circle cx="274.2" cy="579.15" r="21.43" fill="#48494b"/><g fill="none" stroke="#c8cbce" stroke-width="0.5" opacity=".8"><path d="M274.2 579.15L274.2 493.45M274.2 579.15L285.16 494.15M274.2 579.15L295.94 496.25M274.2 579.15L306.36 499.71M274.2 579.15L316.25 504.48M274.2 579.15L325.46 510.47M274.2 579.15L333.82 517.59M274.2 579.15L341.2 525.72M274.2 579.15L347.49 534.72M274.2 579.15L352.57 544.46M274.2 579.15L356.36 554.77M274.2 579.15L358.8 565.47M274.2 579.15L359.86 576.4M274.2 579.15L359.5 587.38M274.2 579.15L357.75 598.22M274.2 579.15L354.63 608.75M274.2 579.15L350.18 618.79M274.2 579.15L344.49 628.18M274.2 579.15L337.64 636.77M274.2 579.15L329.75 644.41M274.2 579.15L320.95 650.97M274.2 579.15L311.38 656.36M274.2 579.15L301.2 660.48M274.2 579.15L290.58 663.27M274.2 579.15L279.69 664.67M274.2 579.15L268.71 664.67M274.2 579.15L257.82 663.27M274.2 579.15L247.2 660.48M274.2 579.15L237.02 656.36M274.2 579.15L227.45 650.97M274.2 579.15L218.65 644.41M274.2 579.15L210.76 636.77M274.2 579.15L203.91 628.18M274.2 579.15L198.22 618.79M274.2 579.15L193.77 608.75M274.2 579.15L190.65 598.22M274.2 579.15L188.9 587.38M274.2 579.15L188.54 576.4M274.2 579.15L189.6 565.47M274.2 579.15L192.04 554.77M274.2 579.15L195.83 544.46M274.2 579.15L200.91 534.72M274.2 579.15L207.2 525.72M274.2 579.15L214.58 517.59M274.2 579.15L222.94 510.47M274.2 579.15L232.15 504.48M274.2 579.15L242.04 499.71M274.2 579.15L252.46 496.25M274.2 579.15L263.24 494.15"/><circle cx="274.2" cy="579.15" r="21.43"/><circle cx="274.2" cy="579.15" r="42.85"/><circle cx="274.2" cy="579.15" r="64.28"/><circle cx="274.2" cy="579.15" r="85.7"/></g><text x="271.8" y="559.82" font-size="5.45" fill="#fff" text-anchor="end">20,000.00</text><text x="271.8" y="538.4" font-size="5.45" fill="#fff" text-anchor="end">40,000.00</text><text x="271.8" y="516.97" font-size="5.45" fill="#fff" text-anchor="end">60,000.00</text><text x="271.8" y="495.55" font-size="5.45" fill="#fff" text-anchor="end">80,000.00</text><polygon points="274.2,575.72 274.53,576.6 274.69,577.28 275.25,576.57 276.41,575.23 277.79,574.34 276.44,576.84 278.56,575.68 276.77,577.6 280.08,576.55 277.69,578.11 278.64,578.43 276.98,579.06 279.74,579.68 277.33,579.87 278.62,580.78 276.29,580.24 277.36,581.36 289.66,593.19 276.28,581.6 293.25,608.42 275.41,581.66 275.35,582.61 274.57,581.04 274.3,580.65 274.05,581.5 273.95,580.41 273.32,581.79 273.36,580.89 272.45,581.84 273.09,580.46 271.98,581.17 272.44,580.38 271.73,580.44 272.39,579.82 271.69,579.72 189.96,587.28 270.56,579.03 271.87,578.77 269.48,577.75 271.46,577.94 270.72,577.04 272.19,577.55 271.82,576.69 272.92,577.43 272.62,576.35 273.24,576.77 271.37,568.37 273.82,576.18" fill="#86cde6" fill-opacity=".9" stroke="#86cde6" stroke-width="0.7" stroke-linejoin="round"/><g fill="#86cde6"><circle cx="274.2" cy="575.72" r="1.1"/><circle cx="274.53" cy="576.6" r="1.1"/><circle cx="274.69" cy="577.28" r="1.1"/><circle cx="275.25" cy="576.57" r="1.1"/><circle cx="276.41" cy="575.23" r="1.1"/><circle cx="277.79" cy="574.34" r="1.1"/><circle cx="276.44" cy="576.84" r="1.1"/><circle cx="278.56" cy="575.68" r="1.1"/><circle cx="276.77" cy="577.6" r="1.1"/><circle cx="280.08" cy="576.55" r="1.1"/><circle cx="277.69" cy="578.11" r="1.1"/><circle cx="278.64" cy="578.43" r="1.1"/><circle cx="276.98" cy="579.06" r="1.1"/><circle cx="279.74" cy="579.68" r="1.1"/><circle cx="277.33" cy="579.87" r="1.1"/><circle cx="278.62" cy="580.78" r="1.1"/><circle cx="276.29" cy="580.24" r="1.1"/><circle cx="277.36" cy="581.36" r="1.1"/><circle cx="289.66" cy="593.19" r="1.5"/><circle cx="276.28" cy="581.6" r="1.1"/><circle cx="293.25" cy="608.42" r="1.5"/><circle cx="275.41" cy="581.66" r="1.1"/><circle cx="275.35" cy="582.61" r="1.1"/><circle cx="274.57" cy="581.04" r="1.1"/><circle cx="274.3" cy="580.65" r="1.1"/><circle cx="274.05" cy="581.5" r="1.1"/><circle cx="273.95" cy="580.41" r="1.1"/><circle cx="273.32" cy="581.79" r="1.1"/><circle cx="273.36" cy="580.89" r="1.1"/><circle cx="272.45" cy="581.84" r="1.1"/><circle cx="273.09" cy="580.46" r="1.1"/><circle cx="271.98" cy="581.17" r="1.1"/><circle cx="272.44" cy="580.38" r="1.1"/><circle cx="271.73" cy="580.44" r="1.1"/><circle cx="272.39" cy="579.82" r="1.1"/><circle cx="271.69" cy="579.72" r="1.1"/><circle cx="189.96" cy="587.28" r="1.5"/><circle cx="270.56" cy="579.03" r="1.1"/><circle cx="271.87" cy="578.77" r="1.1"/><circle cx="269.48" cy="577.75" r="1.1"/><circle cx="271.46" cy="577.94" r="1.1"/><circle cx="270.72" cy="577.04" r="1.1"/><circle cx="272.19" cy="577.55" r="1.1"/><circle cx="271.82" cy="576.69" r="1.1"/><circle cx="272.92" cy="577.43" r="1.1"/><circle cx="272.62" cy="576.35" r="1.1"/><circle cx="273.24" cy="576.77" r="1.1"/><circle cx="271.37" cy="568.37" r="1.5"/><circle cx="273.82" cy="576.18" r="1.1"/></g><ellipse cx="274.8" cy="579.75" rx="5.4" ry="3.7" fill="#86cde6"/><text x="273.6" y="564.39" font-size="4.36" fill="#fff" text-anchor="middle">10,814.00</text><text x="280.2" y="570.79" font-size="4.36" fill="#fff" text-anchor="middle">3,400.00</text><text x="277.4" y="573.19" font-size="4.36" fill="#fff" text-anchor="middle">5,600.00</text><text x="281.4" y="574.99" font-size="4.36" fill="#fff" text-anchor="middle">4,200.00</text><text x="275.2" y="575.99" font-size="4.36" fill="#fff" text-anchor="middle">2,800.00</text><text x="278.8" y="573.99" font-size="4.36" fill="#fff" text-anchor="middle">6,000.00</text><text x="267.4" y="572.79" font-size="4.36" fill="#fff" text-anchor="middle">3,000.00</text><text x="265.2" y="577.59" font-size="4.36" fill="#fff" text-anchor="middle">2,400.00</text><text x="263.6" y="579.99" font-size="4.36" fill="#fff" text-anchor="middle">0.00</text><text x="282.6" y="572.59" font-size="4.36" fill="#fff" text-anchor="middle">5,200.00</text><text x="276.2" y="571.59" font-size="4.36" fill="#fff" text-anchor="middle">4,400.00</text><text x="283.8" y="573.99" font-size="4.36" fill="#fff" text-anchor="middle">3,600.00</text><text x="272.2" y="574.59" font-size="4.36" fill="#fff" text-anchor="middle">2,600.00</text><text x="279.6" y="576.19" font-size="4.36" fill="#fff" text-anchor="middle">3,200.00</text><text x="292.66" y="588.11" font-size="4.58" fill="#fff" text-anchor="middle">19,500.00</text><text x="293.45" y="603.33" font-size="4.58" fill="#fff" text-anchor="middle">32,600.00</text><text x="195.36" y="581.79" font-size="4.58" fill="#fff" text-anchor="middle">79,000.00</text><text x="274.4" y="489.95" font-size="4.3" fill="#fff" text-anchor="middle" textLength="83.8" lengthAdjust="spacingAndGlyphs">三通 <tspan font-size="4.69">PE</tspan>管件（国标）【个】鑫牛<tspan font-size="4.69">/D90*100T</tspan></text><text x="304.4" y="494.25" font-size="4.3" fill="#fff" textLength="47.6" lengthAdjust="spacingAndGlyphs">弯头及弯通 <tspan font-size="4.69">90</tspan>压弯【个】</text><text x="325.5" y="506.55" font-size="4.3" fill="#fff" textLength="51.5" lengthAdjust="spacingAndGlyphs">弯头及弯通 铜制弯头【个】</text><text x="333.7" y="514.15" font-size="4.3" fill="#fff" textLength="163.8" lengthAdjust="spacingAndGlyphs">水表 压力表【只】远传压力表、配<tspan font-size="4.69">10</tspan>米引线接头、球阀、压力表弯管、远传压力表、</text><text x="341.8" y="522.85" font-size="4.3" fill="#fff" textLength="83.1" lengthAdjust="spacingAndGlyphs">水表 可拆远传水表【只】宁波<tspan font-size="4.69">/LXLC 80</tspan></text><text x="349" y="532.55" font-size="4.3" fill="#fff" textLength="60.6" lengthAdjust="spacingAndGlyphs">水表 垂直螺翼式远传水表【只】</text><text x="354.6" y="543.25" font-size="4.3" fill="#fff" textLength="78.4" lengthAdjust="spacingAndGlyphs">水表 宽量程远传水表【只】宁波<tspan font-size="4.69">/WPSD</tspan></text><text x="358.4" y="554.15" font-size="4.3" fill="#fff" textLength="73.4" lengthAdjust="spacingAndGlyphs">水表 旋翼干式非磁无线远传水表【只】</text><text x="361.2" y="565.35" font-size="4.3" fill="#fff" textLength="112.6" lengthAdjust="spacingAndGlyphs">水表 水平螺翼式水表【只】<tspan font-size="4.69">WPSD-DN100</tspan>（含水表检测）</text><text x="362" y="577.55" font-size="4.3" fill="#fff" textLength="113" lengthAdjust="spacingAndGlyphs">水表 水平螺翼式水表【只】<tspan font-size="4.69">WPSD-DN150</tspan>（含水表检测）</text><text x="362" y="589.05" font-size="4.3" fill="#fff" textLength="29" lengthAdjust="spacingAndGlyphs">水表 水表【只】</text><text x="360.2" y="600.95" font-size="4.3" fill="#fff" textLength="37.4" lengthAdjust="spacingAndGlyphs">水表 立式水表【只】</text><text x="356.6" y="612.45" font-size="4.3" fill="#fff" textLength="71.4" lengthAdjust="spacingAndGlyphs">水表 立冷水表【只】宁波<tspan font-size="4.69">/LXSL 20L</tspan></text><text x="351.5" y="623.35" font-size="4.3" fill="#fff" textLength="71.4" lengthAdjust="spacingAndGlyphs">水表 立冷水表【只】宁波<tspan font-size="4.69">/LXSL-25F</tspan></text><text x="345.7" y="633.05" font-size="4.3" fill="#fff" textLength="42.8" lengthAdjust="spacingAndGlyphs">水表 超声波水表【只】</text><text x="338" y="642.55" font-size="4.3" fill="#fff" textLength="99.6" lengthAdjust="spacingAndGlyphs">水表 超声波水表【只】<tspan font-size="4.69">DN50</tspan>、含压力及流量模块、</text><text x="329.9" y="650.65" font-size="4.3" fill="#fff" textLength="100.1" lengthAdjust="spacingAndGlyphs">水表 超声波水表【只】阿拉福<tspan font-size="4.69">DN150</tspan>含流量及压力</text><text x="320.2" y="658.05" font-size="4.3" fill="#fff" textLength="122.3" lengthAdjust="spacingAndGlyphs">水表 超声波水表【只】阿拉福水表带远传<tspan font-size="4.69">DN100</tspan>含流量及压力</text><text x="310" y="663.65" font-size="4.3" fill="#fff" textLength="33.9" lengthAdjust="spacingAndGlyphs">球阀 铜球阀【只】</text><text x="298.8" y="667.95" font-size="4.3" fill="#fff" textLength="77.7" lengthAdjust="spacingAndGlyphs">球阀 铜球阀【只】铜球阀<tspan font-size="4.69">DN40</tspan>（螺纹）</text><text x="270.4" y="672.75" font-size="4.3" fill="#fff" text-anchor="end" textLength="101.5" lengthAdjust="spacingAndGlyphs">管材 不锈钢给水管【<tspan font-size="4.69">m</tspan>】<tspan font-size="4.69">316L DN50*1.5*100</tspan>（和路）</text><text x="247" y="668.45" font-size="4.3" fill="#fff" text-anchor="end" textLength="33.4" lengthAdjust="spacingAndGlyphs">管材 排水管【<tspan font-size="4.69">m</tspan>】</text><text x="238.7" y="663.15" font-size="4.3" fill="#fff" text-anchor="end" textLength="72" lengthAdjust="spacingAndGlyphs">管材 排水管【<tspan font-size="4.69">m</tspan>】鑫牛品<tspan font-size="4.69">DN15*170</tspan></text><text x="226.1" y="658.15" font-size="4.3" fill="#fff" text-anchor="end" textLength="33.9" lengthAdjust="spacingAndGlyphs">管材 平壁管【<tspan font-size="4.69">m</tspan>】</text><text x="219.1" y="650.75" font-size="4.3" fill="#fff" text-anchor="end" textLength="80.4" lengthAdjust="spacingAndGlyphs">管材 单盘管（国标）【<tspan font-size="4.69">m</tspan>】鑫牛<tspan font-size="4.69">/DN200</tspan></text><text x="209.9" y="642.85" font-size="4.3" fill="#fff" text-anchor="end" textLength="79.3" lengthAdjust="spacingAndGlyphs">管材 单盘管（国标）【<tspan font-size="4.69">m</tspan>】鑫牛<tspan font-size="4.69">/DN300</tspan></text><text x="201.2" y="633.45" font-size="4.3" fill="#fff" text-anchor="end" textLength="55.9" lengthAdjust="spacingAndGlyphs">管材 双盘盘管（国标）【<tspan font-size="4.69">m</tspan>】</text><text x="196.8" y="623.45" font-size="4.3" fill="#fff" text-anchor="end" textLength="79.9" lengthAdjust="spacingAndGlyphs">管材 承盘管（国标）【<tspan font-size="4.69">m</tspan>】鑫牛<tspan font-size="4.69">/DN100</tspan></text><text x="191.8" y="612.75" font-size="4.3" fill="#fff" text-anchor="end" textLength="79.7" lengthAdjust="spacingAndGlyphs">管材 承盘管（国标）【<tspan font-size="4.69">m</tspan>】鑫牛<tspan font-size="4.69">/DN200</tspan></text><text x="189.2" y="601.35" font-size="4.3" fill="#fff" text-anchor="end" textLength="78.9" lengthAdjust="spacingAndGlyphs">管材 承插管（国标）【<tspan font-size="4.69">m</tspan>】鑫牛<tspan font-size="4.69">DN100</tspan></text><text x="184.1" y="588.95" font-size="4.3" fill="#fff" text-anchor="end" textLength="38.2" lengthAdjust="spacingAndGlyphs">管材 无缝钢管【<tspan font-size="4.69">m</tspan>】</text><text x="184.1" y="577.25" font-size="4.3" fill="#fff" text-anchor="end" textLength="38.2" lengthAdjust="spacingAndGlyphs">管材 高密度管【<tspan font-size="4.69">m</tspan>】</text><text x="185.2" y="565.65" font-size="4.3" fill="#fff" text-anchor="end" textLength="48" lengthAdjust="spacingAndGlyphs">药剂及试剂 葡萄糖【<tspan font-size="4.69">kg</tspan>】</text><text x="190.3" y="554.05" font-size="4.3" fill="#fff" text-anchor="end" textLength="134.6" lengthAdjust="spacingAndGlyphs">药剂及试剂 聚合氯化铝【<tspan font-size="4.69">kg</tspan>】客户付运费、买方货到付款运费、普通</text><text x="192.2" y="543.15" font-size="4.3" fill="#fff" text-anchor="end" textLength="38.6" lengthAdjust="spacingAndGlyphs">蝶阀 法兰蝶阀【只】</text><text x="200" y="532.85" font-size="4.3" fill="#fff" text-anchor="end" textLength="88.4" lengthAdjust="spacingAndGlyphs">水箱 <tspan font-size="4.69">3</tspan>水箱【组】立式不锈钢水箱<tspan font-size="4.69">LXSL-15t</tspan></text><text x="206.4" y="523.05" font-size="4.3" fill="#fff" text-anchor="end" textLength="88.2" lengthAdjust="spacingAndGlyphs">水箱 <tspan font-size="4.69">5</tspan>水箱【组】立式不锈钢水箱<tspan font-size="4.69">LXSL 15t</tspan></text><text x="212.5" y="514.35" font-size="4.3" fill="#fff" text-anchor="end" textLength="60.7" lengthAdjust="spacingAndGlyphs">设备仪器 传感器（模拟）【台】</text><text x="221.7" y="506.85" font-size="4.3" fill="#fff" text-anchor="end" textLength="56.1" lengthAdjust="spacingAndGlyphs">设备仪器 紫外线消毒器【套】</text><text x="231" y="500.55" font-size="4.3" fill="#fff" text-anchor="end" textLength="133.1" lengthAdjust="spacingAndGlyphs">设备仪器 紫外线消毒器【套】低涌<tspan font-size="4.69">/</tspan>紫外线灯管（<tspan font-size="4.69">AILW-uva120-12</tspan>）</text><text x="242" y="494.65" font-size="4.3" fill="#fff" text-anchor="end" textLength="42.6" lengthAdjust="spacingAndGlyphs">闸阀 软密封闸阀【只】</text><rect x="259.6" y="679.6" width="5.4" height="5.4" rx="1.3" fill="#7ccdea"/><text x="267" y="683.75" font-size="4.3" fill="#fff" textLength="29.6" lengthAdjust="spacingAndGlyphs">成交金额（元）</text></svg><i class="c tl"></i><i class="c tr"></i><i class="c bl"></i><i class="c br"></i></div></div>
<div class="w" style="left:554px;top:462px;width:543px;height:231px"><div class="p dk2" style="left:0px;top:0px;width:543px;height:231px"><svg width="543" height="231" viewBox="554 462 543 231"><text x="558.7" y="473.4" font-size="6.1" fill="#21b4d4" font-weight="bold" textLength="24.38" lengthAdjust="spacingAndGlyphs">整体动销</text><path d="M586 487.5H1080" fill="none" stroke="#858f9e" stroke-width="1"/><path d="M586 523.5H1080M586 559.5H1080M586 595.5H1080M586 631.5H1080M586 667.5H1080" fill="none" stroke="#9a9fa6" stroke-width="1"/><path d="M586.5 487.5V669M1079.5 487.5V669M833.5 667.5v2" fill="none" stroke="#7b8595" stroke-width="1"/><path d="M709.75 667.5L956.25 514.57V667.5Z" fill="#e0601f" fill-opacity=".72"/><path d="M709.75 667.5L956.25 514.57" fill="none" stroke="#f2a14c" stroke-width="1"/><path d="M709.75 667.5H956.25" fill="none" stroke="#b5282a" stroke-width="0.8"/><circle cx="956.25" cy="514.57" r="1.1" fill="#fff" stroke="#f2a14c" stroke-width="0.7"/><circle cx="709.75" cy="667.5" r="1" fill="#c8312b"/><circle cx="956.25" cy="667.5" r="1" fill="#c8312b"/><text x="582.9" y="489.01" font-size="4.58" fill="#fff" text-anchor="end">150000</text><text x="582.9" y="525.01" font-size="4.58" fill="#fff" text-anchor="end">120000</text><text x="582.9" y="561.01" font-size="4.58" fill="#fff" text-anchor="end">90000</text><text x="582.9" y="597.01" font-size="4.58" fill="#fff" text-anchor="end">60000</text><text x="582.9" y="633.01" font-size="4.58" fill="#fff" text-anchor="end">30000</text><text x="582.9" y="669.01" font-size="4.58" fill="#fff" text-anchor="end">0</text><text x="1083.1" y="489.01" font-size="4.58" fill="#fff">1</text><text x="1083.1" y="525.01" font-size="4.58" fill="#fff">0.8</text><text x="1083.1" y="561.01" font-size="4.58" fill="#fff">0.6</text><text x="1083.1" y="597.01" font-size="4.58" fill="#fff">0.4</text><text x="1083.1" y="633.01" font-size="4.58" fill="#fff">0.2</text><text x="1083.1" y="669.01" font-size="4.58" fill="#fff">0</text><text x="956.25" y="500.71" font-size="4.58" fill="#fff" text-anchor="middle">524.55%</text><text x="956.25" y="510.31" font-size="4.58" fill="#fff" text-anchor="middle">127445</text><text x="709.75" y="636.51" font-size="4.58" fill="#fff" text-anchor="middle">0.00%</text><text x="709.75" y="645.11" font-size="4.58" fill="#fff" text-anchor="middle">0</text><text x="709.75" y="653.91" font-size="4.58" fill="#fff" text-anchor="middle">0.00%</text><text x="709.75" y="662.51" font-size="4.58" fill="#fff" text-anchor="middle">0</text><text x="956.25" y="653.91" font-size="4.58" fill="#fff" text-anchor="middle">0.00%</text><text x="956.25" y="662.51" font-size="4.58" fill="#fff" text-anchor="middle">0</text><text x="709.75" y="673.91" font-size="4.2" fill="#fff" text-anchor="middle" textLength="29.52" lengthAdjust="spacingAndGlyphs"><tspan font-size="4.58">2022</tspan>年第<tspan font-size="4.58">1</tspan>季度</text><text x="956.25" y="673.91" font-size="4.2" fill="#fff" text-anchor="middle" textLength="29.52" lengthAdjust="spacingAndGlyphs"><tspan font-size="4.58">2022</tspan>年第<tspan font-size="4.58">2</tspan>季度</text><circle cx="736.4" cy="681.9" r="2.1" fill="#fff" stroke="#e0701c" stroke-width="0.9"/><text x="741.4" y="683.45" font-size="4.3" fill="#fff" textLength="38.67" lengthAdjust="spacingAndGlyphs">销售环比增长（元）</text><circle cx="787.8" cy="681.9" r="2.1" fill="#fff" stroke="#ef9d3f" stroke-width="0.9"/><text x="792.8" y="683.45" font-size="4.3" fill="#fff" textLength="30.08" lengthAdjust="spacingAndGlyphs">销售环比增长率</text><circle cx="830.8" cy="681.9" r="2.1" fill="#fff" stroke="#d9b58c" stroke-width="0.9"/><text x="835.8" y="683.45" font-size="4.3" fill="#fff" textLength="38.67" lengthAdjust="spacingAndGlyphs">销售同比增长（元）</text><circle cx="882.2" cy="681.9" r="2.1" fill="#fff" stroke="#a8242a" stroke-width="0.9"/><text x="887.2" y="683.45" font-size="4.3" fill="#fff" textLength="30.08" lengthAdjust="spacingAndGlyphs">销售同比增长率</text></svg><i class="c tl"></i><i class="c tr"></i><i class="c bl"></i><i class="c br"></i></div></div>
</body>
</html>
